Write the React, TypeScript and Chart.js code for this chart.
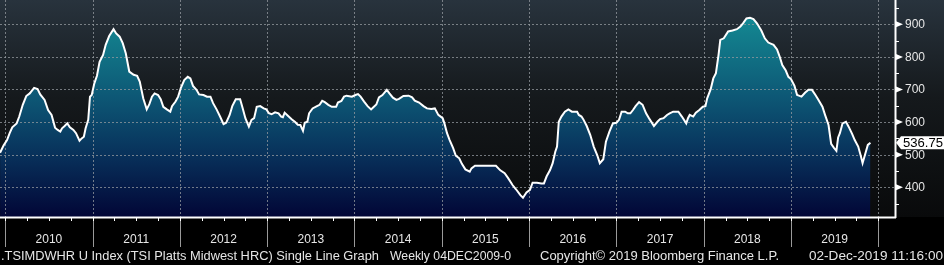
import React, { useEffect, useRef } from "react";
import { Chart, registerables } from "chart.js";

Chart.register(...registerables);

// Weekly TSI Platts Midwest HRC (decimal year -> price)
const dates = [
  2009.94, 2009.98, 2010.02, 2010.05, 2010.08, 2010.13, 2010.16, 2010.2, 2010.24, 2010.28,
  2010.33, 2010.37, 2010.4, 2010.45, 2010.49, 2010.53, 2010.57, 2010.6, 2010.63, 2010.65,
  2010.68, 2010.71, 2010.74, 2010.78, 2010.81, 2010.85, 2010.875, 2010.9, 2010.92, 2010.95,
  2010.97, 2010.99, 2011.02, 2011.05, 2011.08, 2011.12, 2011.15, 2011.19, 2011.24, 2011.27,
  2011.31, 2011.345, 2011.38, 2011.42, 2011.47, 2011.51, 2011.54, 2011.58, 2011.62, 2011.65,
  2011.68, 2011.71, 2011.75, 2011.78, 2011.81, 2011.85, 2011.89, 2011.91, 2011.95, 2011.98,
  2012.01, 2012.05, 2012.09, 2012.12, 2012.15, 2012.19, 2012.22, 2012.27, 2012.31, 2012.35,
  2012.38, 2012.42, 2012.46, 2012.5, 2012.53, 2012.57, 2012.6, 2012.64, 2012.69, 2012.72,
  2012.75, 2012.79, 2012.82, 2012.85, 2012.88, 2012.92, 2012.96, 2012.99, 2013.02, 2013.05,
  2013.09, 2013.13, 2013.16, 2013.18, 2013.2, 2013.24, 2013.28, 2013.32, 2013.35, 2013.38,
  2013.41, 2013.43, 2013.46, 2013.48, 2013.52, 2013.57, 2013.6, 2013.63, 2013.66, 2013.7,
  2013.74, 2013.79, 2013.81, 2013.85, 2013.88, 2013.91, 2013.97, 2014.01, 2014.04, 2014.07,
  2014.11, 2014.15, 2014.19, 2014.21, 2014.25, 2014.28, 2014.32, 2014.37, 2014.4, 2014.44,
  2014.48, 2014.51, 2014.56, 2014.62, 2014.66, 2014.69, 2014.74, 2014.79, 2014.83, 2014.88,
  2014.92, 2014.96, 2015.01, 2015.03, 2015.06, 2015.09, 2015.13, 2015.16, 2015.2, 2015.23,
  2015.27, 2015.32, 2015.34, 2015.38, 2015.46, 2015.53, 2015.62, 2015.67, 2015.72, 2015.76,
  2015.81, 2015.85, 2015.9, 2015.93, 2015.97, 2016.01, 2016.04, 2016.09, 2016.14, 2016.17,
  2016.2, 2016.24, 2016.27, 2016.3, 2016.32, 2016.34, 2016.37, 2016.41, 2016.45, 2016.49,
  2016.55, 2016.57, 2016.6, 2016.62, 2016.66, 2016.7, 2016.74, 2016.78, 2016.81, 2016.85,
  2016.88, 2016.92, 2016.96, 2017.0, 2017.03, 2017.06, 2017.1, 2017.13, 2017.16, 2017.19,
  2017.22, 2017.26, 2017.3, 2017.34, 2017.38, 2017.43, 2017.47, 2017.5, 2017.54, 2017.58,
  2017.61, 2017.65, 2017.71, 2017.75, 2017.8, 2017.82, 2017.84, 2017.88, 2017.91, 2017.95,
  2017.99, 2018.02, 2018.04, 2018.08, 2018.11, 2018.14, 2018.17, 2018.19, 2018.23, 2018.28,
  2018.33, 2018.38, 2018.42, 2018.45, 2018.49, 2018.53, 2018.57, 2018.61, 2018.66, 2018.7,
  2018.74, 2018.8, 2018.84, 2018.87, 2018.9, 2018.94, 2018.97, 2019.0, 2019.04, 2019.07,
  2019.09, 2019.12, 2019.16, 2019.2, 2019.24, 2019.28, 2019.31, 2019.36, 2019.39, 2019.43,
  2019.46, 2019.49, 2019.52, 2019.54, 2019.56, 2019.59, 2019.63, 2019.66, 2019.7, 2019.73,
  2019.77, 2019.8, 2019.82, 2019.85, 2019.88, 2019.91,
];

const prices = [
  506, 528, 545, 566, 584, 596, 617, 653, 680, 688,
  705, 701, 685, 668, 637, 622, 583, 576, 571, 581,
  588, 596, 584, 576, 566, 543, 550, 555, 581, 607,
  678, 683, 719, 742, 785, 806, 837, 864, 885, 872,
  862, 842, 811, 755, 745, 742, 724, 673, 639, 655,
  678, 688, 683, 670, 647, 639, 632, 649, 663, 678,
  704, 729, 739, 734, 711, 699, 685, 683, 678, 678,
  658, 639, 617, 594, 598, 622, 649, 670, 670, 642,
  612, 586, 607, 612, 647, 649, 642, 639, 627, 624,
  630, 627, 617, 615, 629, 619, 609, 600, 592, 591,
  573, 598, 601, 627, 642, 649, 653, 665, 661, 653,
  647, 647, 660, 665, 678, 681, 678, 683, 686, 678,
  663, 649, 639, 644, 654, 676, 683, 699, 688, 675,
  668, 671, 680, 681, 676, 666, 660, 649, 642, 640,
  642, 622, 612, 596, 566, 545, 520, 497, 489, 472,
  455, 448, 458, 466, 466, 466, 466, 452, 443, 428,
  407, 394, 376, 368, 384, 392, 414, 414, 412, 412,
  433, 453, 474, 509, 525, 601, 617, 632, 639, 632,
  632, 622, 617, 609, 588, 561, 525, 499, 474, 486,
  540, 571, 596, 598, 607, 632, 632, 627, 627, 637,
  649, 661, 653, 627, 609, 588, 601, 609, 612, 622,
  627, 632, 632, 617, 596, 612, 622, 617, 629, 637,
  647, 649, 673, 701, 734, 750, 806, 852, 857, 878,
  881, 885, 893, 903, 918, 920, 916, 903, 881, 857,
  844, 837, 823, 801, 775, 758, 739, 732, 711, 683,
  681, 678, 690, 699, 699, 683, 670, 647, 622, 591,
  533, 522, 512, 553, 566, 596, 601, 586, 564, 545,
  525, 496, 474, 502, 530, 536.75,
];

const yearLabels = ["2010", "2011", "2012", "2013", "2014", "2015", "2016", "2017", "2018", "2019"];
const yearBounds = [2010, 2011, 2012, 2013, 2014, 2015, 2016, 2017, 2018, 2019, 2020];
const yMajorTicks = [400, 500, 600, 700, 800, 900];
const yMinorTicks = [350, 450, 550, 650, 750, 850, 950];

const footerTexts = [
  ".TSIMDWHR U Index (TSI Platts Midwest HRC) Single Line Graph",
  "Weekly 04DEC2009-0",
  "Copyright\u00a9 2019 Bloomberg Finance L.P.",
  "02-Dec-2019 11:16:00",
];
// left edge and width of each footer string in the reference layout
const footerLeft = [1, 390, 540, 809];
const footerWidth = [378, 121, 239, 134];

const FONT = '12px "Liberation Sans", Arial, sans-serif';

function fitText(ctx: CanvasRenderingContext2D, text: string, x: number, y: number, w: number) {
  const m = ctx.measureText(text).width;
  const s = m > 0 ? w / m : 1;
  ctx.save();
  ctx.translate(x, y);
  ctx.scale(s, 1);
  ctx.textAlign = "left";
  ctx.fillText(text, 0, 0);
  ctx.restore();
}

const bloombergPlugin = {
  id: "bloomberg",
  beforeDraw(chart: any) {
    const { ctx, chartArea, width, height } = chart;
    ctx.save();
    ctx.fillStyle = "#000";
    ctx.fillRect(0, 0, width, height);
    const g = ctx.createLinearGradient(0, 0, 0, chartArea.bottom);
    g.addColorStop(0, "#28333d");
    g.addColorStop(0.45, "#15191c");
    g.addColorStop(1, "#090a0b");
    ctx.fillStyle = g;
    ctx.fillRect(0, 0, width, chartArea.bottom);
    ctx.restore();
  },
  beforeDatasetsDraw(chart: any) {
    const { ctx, chartArea, scales } = chart;
    const x = scales.x;
    const y = scales.y;
    ctx.save();
    ctx.strokeStyle = "rgba(150,155,160,0.75)";
    ctx.lineWidth = 1;
    ctx.setLineDash([2, 2]);
    yMajorTicks.forEach((v) => {
      const py = Math.round(y.getPixelForValue(v)) + 0.5;
      ctx.beginPath();
      ctx.moveTo(chartArea.left, py);
      ctx.lineTo(chartArea.right, py);
      ctx.stroke();
    });
    yearBounds.forEach((v) => {
      const px = Math.round(x.getPixelForValue(v)) + 0.5;
      ctx.beginPath();
      ctx.moveTo(px, chartArea.top);
      ctx.lineTo(px, chartArea.bottom);
      ctx.stroke();
    });
    ctx.restore();
  },
  afterDraw(chart: any) {
    const { ctx, chartArea, scales, width } = chart;
    const x = scales.x;
    const y = scales.y;
    const bottom = chartArea.bottom;
    const right = chartArea.right;
    ctx.save();

    // year separators in axis band
    ctx.strokeStyle = "#9a9a9a";
    ctx.lineWidth = 1;
    yearBounds.forEach((v) => {
      const px = Math.round(x.getPixelForValue(v)) + 0.5;
      ctx.beginPath();
      ctx.moveTo(px, bottom);
      ctx.lineTo(px, bottom + 30);
      ctx.stroke();
    });
    // quarter ticks
    ctx.strokeStyle = "#ffffff";
    for (let yr = 2010; yr < 2020.01; yr += 0.25) {
      const px = Math.round(x.getPixelForValue(yr)) + 0.5;
      ctx.beginPath();
      ctx.moveTo(px, bottom);
      ctx.lineTo(px, bottom + 4);
      ctx.stroke();
    }
    // axis lines
    ctx.lineWidth = 2;
    ctx.beginPath();
    ctx.moveTo(0, bottom + 0.5);
    ctx.lineTo(right + 1, bottom + 0.5);
    ctx.stroke();
    ctx.beginPath();
    ctx.moveTo(right + 0.5, 0);
    ctx.lineTo(right + 0.5, bottom + 1);
    ctx.stroke();

    // year labels
    ctx.font = FONT;
    ctx.fillStyle = "#e6e6e6";
    ctx.textAlign = "center";
    ctx.textBaseline = "middle";
    yearLabels.forEach((lab, i) => {
      const px = x.getPixelForValue(yearBounds[i] + 0.5);
      ctx.fillText(lab, px, bottom + 23);
    });

    // right axis minor ticks
    ctx.lineWidth = 1;
    ctx.strokeStyle = "#ffffff";
    yMinorTicks.forEach((v) => {
      const py = Math.round(y.getPixelForValue(v)) + 0.5;
      ctx.beginPath();
      ctx.moveTo(right, py);
      ctx.lineTo(right + 4, py);
      ctx.stroke();
    });
    // right axis major ticks (triangles) + labels
    ctx.textAlign = "left";
    yMajorTicks.forEach((v) => {
      const py = y.getPixelForValue(v);
      ctx.fillStyle = "#ffffff";
      ctx.beginPath();
      ctx.moveTo(right + 1, py - 3);
      ctx.lineTo(right + 8, py);
      ctx.lineTo(right + 1, py + 3);
      ctx.closePath();
      ctx.fill();
      ctx.fillStyle = "#e6e6e6";
      ctx.fillText(String(v), right + 10, py + 0.5);
    });

    // last price box
    const last = prices[prices.length - 1];
    const ly = y.getPixelForValue(last);
    ctx.fillStyle = "#ffffff";
    ctx.beginPath();
    ctx.moveTo(right + 1, ly);
    ctx.lineTo(right + 6, ly - 6.5);
    ctx.lineTo(width, ly - 6.5);
    ctx.lineTo(width, ly + 6.5);
    ctx.lineTo(right + 6, ly + 6.5);
    ctx.closePath();
    ctx.fill();
    ctx.fillStyle = "#000000";
    ctx.font = FONT;
    fitText(ctx, last.toFixed(2), right + 8, ly + 0.5, 40);

    // footer
    ctx.font = FONT;
    ctx.fillStyle = "#e6e6e6";
    ctx.textBaseline = "middle";
    const fy = bottom + 40;
    footerTexts.forEach((t, i) => fitText(ctx, t, footerLeft[i], fy, footerWidth[i]));

    ctx.restore();
  },
};

export default function App() {
  const canvasRef = useRef<HTMLCanvasElement | null>(null);

  useEffect(() => {
    document.body.style.margin = "0";
    document.body.style.background = "#000";
    const canvas = canvasRef.current;
    if (!canvas) return;
    const chart = new Chart(canvas, {
      type: "line",
      data: {
        datasets: [
          {
            data: dates.map((d, i) => ({ x: d, y: prices[i] })),
            borderColor: "#ffffff",
            borderWidth: 2,
            pointRadius: 0,
            tension: 0,
            fill: "start",
            backgroundColor: (c: any) => {
              const { chart: ch } = c;
              const area = ch.chartArea;
              if (!area) return "#0a3d63";
              const g = ch.ctx.createLinearGradient(0, area.top, 0, area.bottom);
              g.addColorStop(0, "#169aa6");
              g.addColorStop(0.12, "#13838f");
              g.addColorStop(0.45, "#0d5775");
              g.addColorStop(0.72, "#08305a");
              g.addColorStop(1, "#020636");
              return g;
            },
          },
        ],
      },
      options: {
        responsive: false,
        animation: false,
        devicePixelRatio: 1,
        layout: { padding: { left: 0, top: 0, right: 49, bottom: 48 } },
        scales: {
          x: { type: "linear", min: 2009.9393, max: 2020.1913, display: false },
          y: { type: "linear", min: 308.9, max: 974.5, display: false },
        },
        plugins: {
          legend: { display: false },
          tooltip: { enabled: false },
          filler: { drawTime: "beforeDatasetsDraw" },
        },
      } as any,
      plugins: [bloombergPlugin],
    });
    return () => chart.destroy();
  }, []);

  return (
    <canvas
      ref={canvasRef}
      width={944}
      height={265}
      style={{ display: "block", width: 944, height: 265 }}
    />
  );
}
